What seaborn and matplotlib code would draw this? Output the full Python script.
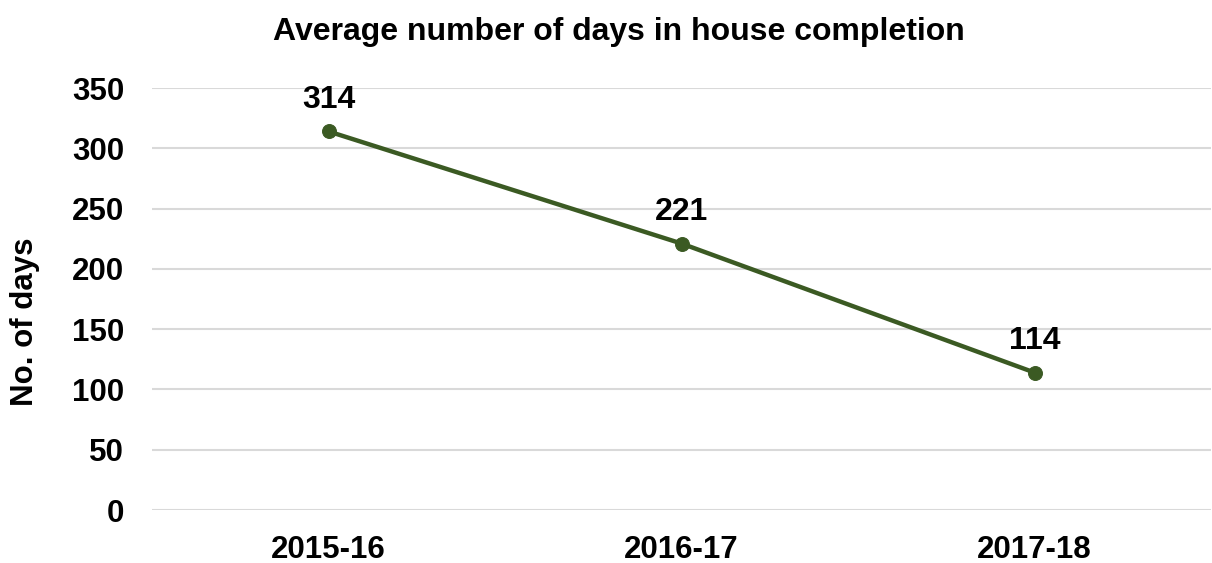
import matplotlib
matplotlib.use("Agg")
import matplotlib.pyplot as plt
import seaborn as sns
import pandas as pd

years = ["2015-16", "2016-17", "2017-18"]
days = [314, 221, 114]
yticks = [0, 50, 100, 150, 200, 250, 300, 350]

sns.set_style("white")
plt.rcParams['font.family'] = ['Liberation Sans', 'DejaVu Sans']
plt.rcParams['font.weight'] = 'bold'
plt.rcParams['text.color'] = 'black'
plt.rcParams['xtick.color'] = 'black'
plt.rcParams['ytick.color'] = 'black'

df = pd.DataFrame({"Year": years, "Days": days})

fig = plt.figure(figsize=(12.12, 5.63), dpi=100)
ax = fig.add_axes([152/1212, 53/563, 1059/1212, 422/563])

line_color = "#3B5A23"
sns.lineplot(data=df, x="Year", y="Days", ax=ax, color=line_color,
             linewidth=3.2, marker="o", markersize=10,
             markeredgecolor=line_color, markerfacecolor=line_color, sort=False)

for i, v in enumerate(days):
    ax.annotate(str(v), (i, v), xytext=(0, 17), textcoords="offset points",
                ha="center", va="baseline", fontsize=23, fontweight="bold", color="black")

ax.set_xlim(-0.5, 2.5)
ax.set_ylim(0, 350)
ax.set_yticks(yticks)
ax.yaxis.grid(True, color="#D9D9D9", linewidth=1.5)
ax.set_axisbelow(True)
for s in ax.spines.values():
    s.set_visible(False)
ax.tick_params(axis="both", length=0, labelsize=22.5, labelcolor="black")
ax.tick_params(axis="y", pad=20)
ax.tick_params(axis="x", pad=18)
for lbl in ax.get_xticklabels() + ax.get_yticklabels():
    lbl.set_fontweight("bold")
ax.set_xlabel("")
ax.set_ylabel("")
fig.text(25/1212, 1 - 322/563, "No. of days", rotation=90, ha="center", va="center",
         fontsize=22.5, fontweight="bold", color="black")
fig.text(619/1212, 1 - 40/563, "Average number of days in house completion",
         ha="center", va="baseline", fontsize=23, fontweight="bold", color="black")

fig.savefig("out.png", dpi=100)
